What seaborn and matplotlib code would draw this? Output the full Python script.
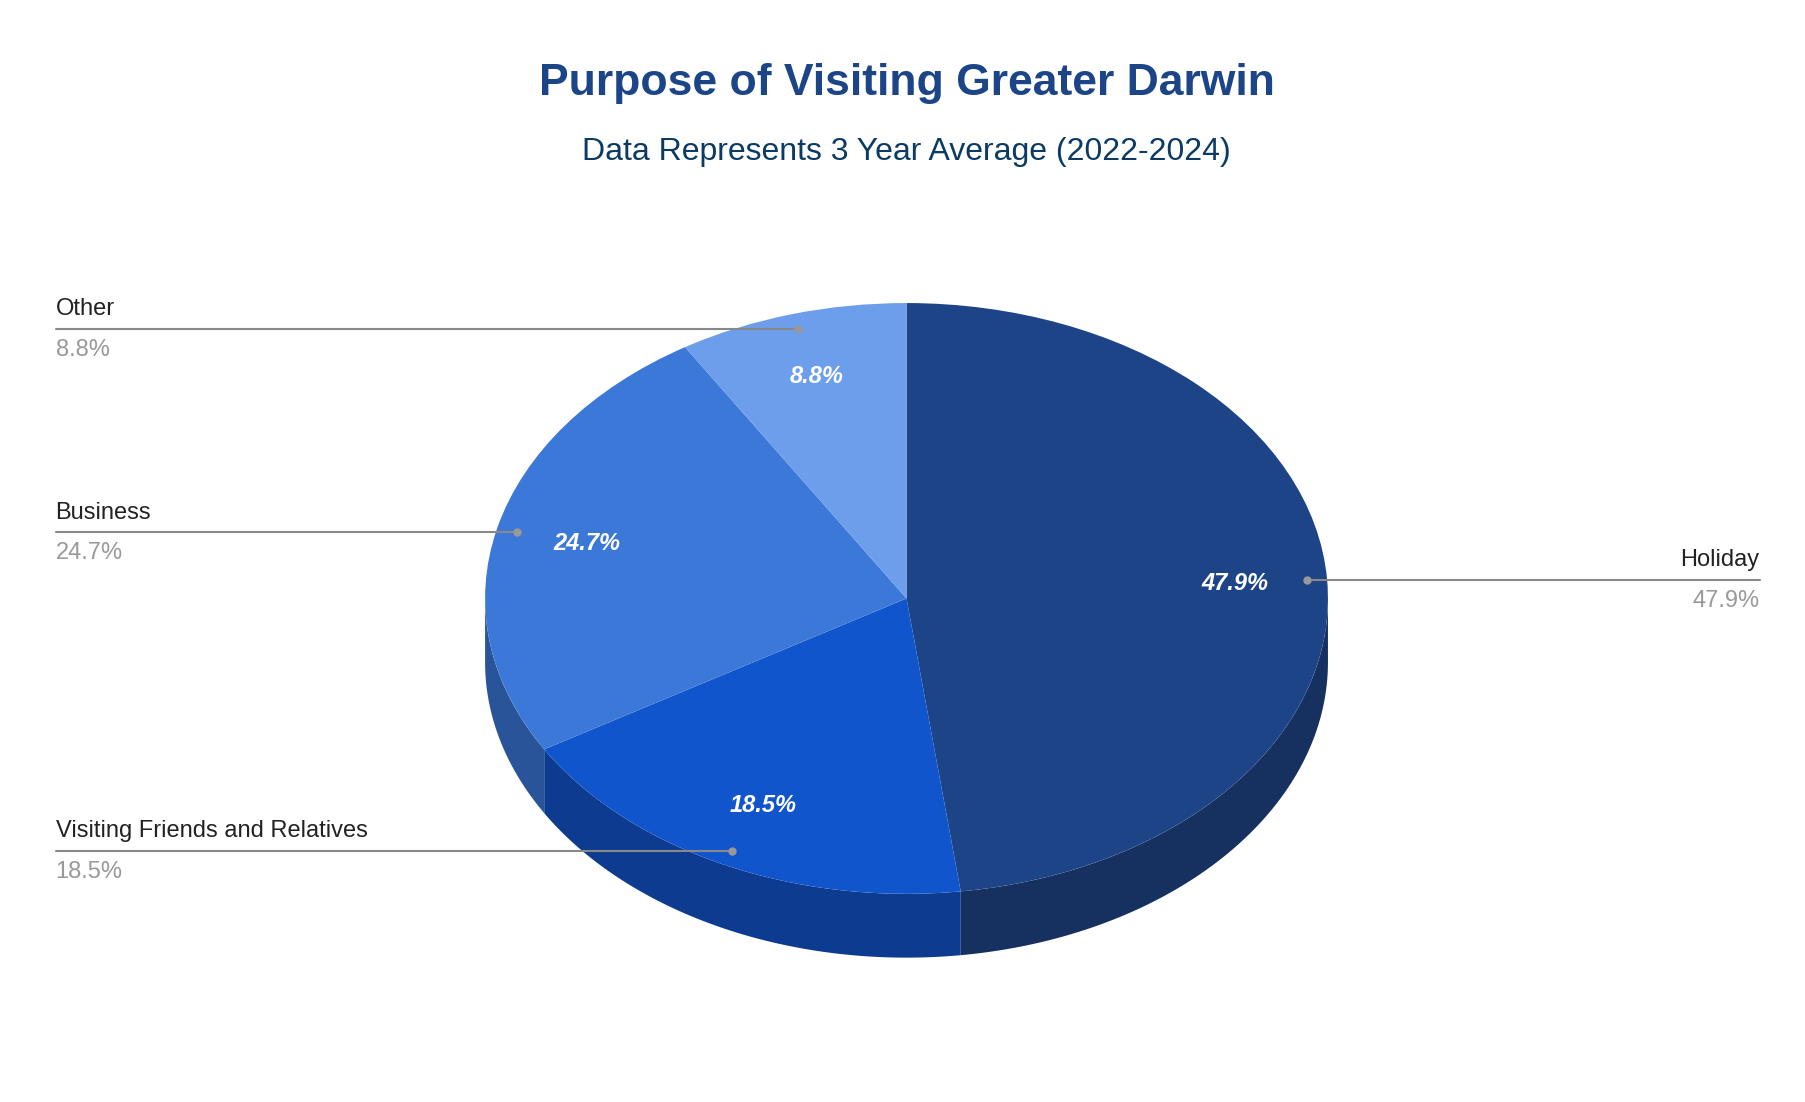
import numpy as np
import matplotlib
matplotlib.use("Agg")
import matplotlib.pyplot as plt
import seaborn as sns
from matplotlib.patches import Polygon

sns.set_theme(style="white")
plt.rcParams['font.family'] = ['Liberation Sans', 'DejaVu Sans']

categories = ["Holiday", "Visiting Friends and Relatives", "Business", "Other"]
values = [47.9, 18.5, 24.7, 8.8]
top_colors = ["#1E4488", "#1155CC", "#3C78D8", "#6D9EEB"]
side_colors = ["#163060", "#0C3B8F", "#2A5499", "#4C6FA5"]

W, H = 1560.0, 952.0
def f(x, y):
    return (x / W, 1 - y / H)

fig = plt.figure(figsize=(18.06, 11.02), dpi=100)
depth = 0.216
ax = fig.add_axes([0.2686, 0.131, 0.4667, 0.594])
ax.set_xlim(-1, 1)
ax.set_ylim(-1 - depth, 1)
ax.axis("off")

wedges, _, autotexts = ax.pie(values, colors=top_colors, startangle=90, counterclock=False,
                              autopct="%.1f%%", pctdistance=0.78,
                              wedgeprops=dict(linewidth=0))
ax.set_aspect("auto")
ax.set_xlim(-1, 1)
ax.set_ylim(-1 - depth, 1)
for t in autotexts:
    t.set_color("white"); t.set_fontweight("bold"); t.set_fontstyle("italic"); t.set_fontsize(17)

# side walls
total = sum(values)
a = 90.0
for v, c in zip(values, side_colors):
    a2 = a - v / total * 360
    lo, hi = max(a2, -180), min(a, 0)
    if hi > lo:
        th = np.radians(np.linspace(lo, hi, 100))
        xs, ys = np.cos(th), np.sin(th)
        pts = np.concatenate([np.column_stack([xs, ys]), np.column_stack([xs[::-1], ys[::-1] - depth])])
        ax.add_patch(Polygon(pts, closed=True, facecolor=c, edgecolor="none", zorder=0))
    a = a2

fig.text(*f(783, 72), "Purpose of Visiting Greater Darwin", ha="center", va="center",
         fontsize=32, fontweight="bold", color="#1C4587")
fig.text(*f(783, 131), "Data Represents 3 Year Average (2022-2024)", ha="center", va="center",
         fontsize=23, color="#0B3A63")

leaders = {
    "Other": ((689, 284), 48, "left"),
    "Business": ((447, 460), 48, "left"),
    "Visiting Friends and Relatives": ((632, 735), 48, "left"),
    "Holiday": ((1129, 501), 1520, "right"),
}
for cat, v in zip(categories, values):
    (dx, dy), ex, side = leaders[cat]
    x0, y0 = f(dx, dy); x1, _ = f(ex, dy)
    fig.add_artist(plt.Line2D([x0, x1], [y0, y0], color="#888888", lw=1.5, transform=fig.transFigure))
    fig.add_artist(plt.Line2D([x0], [y0], marker="o", ms=5, color="#999999", transform=fig.transFigure))
    fig.text(*f(ex, dy - 17), cat, ha=side, va="center", fontsize=17, color="#222222")
    fig.text(*f(ex, dy + 18), f"{v}%", ha=side, va="center", fontsize=17, color="#999999")

fig.savefig("out.png", dpi=100, facecolor="white")
